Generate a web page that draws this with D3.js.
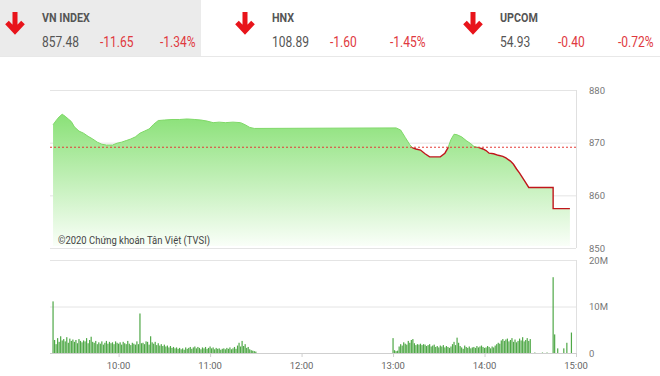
<!DOCTYPE html>
<html>
<head>
<meta charset="utf-8">
<script src="https://cdn.jsdelivr.net/npm/d3@7"></script>
<style>
  body { margin: 0; background: #fff; }
  svg { display: block; font-family: Roboto, "Noto Sans", sans-serif; }
</style>
</head>
<body>
<svg id="chart" width="660" height="376"></svg>
<script>
// header boxes
const indexNames = ["VN INDEX", "HNX", "UPCOM"];
const indexValues = ["857.48", "108.89", "54.93"];
const indexChanges = ["-11.65", "-1.60", "-0.40"];
const indexPercents = ["-1.34%", "-1.45%", "-0.72%"];

// intraday VN-Index
const refPrice = 869.13;
const priceTimes = [
  "09:17", "09:19", "09:21", "09:23", "09:25", "09:27", "09:29", "09:31", "09:34", "09:37",
  "09:40", "09:43", "09:46", "09:49", "09:52", "09:56", "09:59", "10:02", "10:05", "10:08",
  "10:11", "10:14", "10:17", "10:20", "10:23", "10:26", "10:30", "10:35", "10:40", "10:45",
  "10:50", "10:54", "10:58", "11:02", "11:06", "11:10", "11:15", "11:20", "11:23", "11:26",
  "11:29", "13:02", "13:05", "13:08", "13:11", "13:13", "13:15", "13:18", "13:21", "13:24",
  "13:28", "13:31", "13:34", "13:36", "13:38", "13:40", "13:42", "13:45", "13:48", "13:51",
  "13:53", "13:56", "13:59", "14:01", "14:03", "14:06", "14:09", "14:12", "14:14", "14:17",
  "14:19", "14:21", "14:23", "14:25", "14:27", "14:29", "14:45", "14:45", "14:56"
];
const priceValues = [
  873.4, 874.2, 874.9, 875.4, 875.0, 874.5, 874.0, 873.0, 872.2, 871.8,
  871.2, 870.7, 870.1, 869.7, 869.55, 869.55, 869.9, 870.1, 870.4, 870.7,
  871.1, 871.8, 872.2, 872.6, 873.5, 874.2, 874.3, 874.4, 874.4, 874.5,
  874.4, 874.3, 874.1, 873.8, 873.9, 873.8, 873.9, 873.8, 873.4, 872.9,
  872.7, 872.8, 872.4, 871.0, 869.6, 869.0, 868.8, 868.6, 867.9, 867.3,
  867.3, 867.3, 868.0, 869.0, 870.6, 871.6, 871.5, 871.1, 870.4, 869.8,
  869.3, 869.1, 868.8, 868.5, 868.0, 867.9, 867.6, 867.4, 867.1, 866.5,
  865.9, 865.0, 864.2, 863.3, 862.4, 861.5, 861.5, 857.48, 857.48
];

// volume per minute, millions of shares
const volMorningStart = "09:17";
const volMorning = [
  11.1, 2.8, 1.9, 3.2, 2.4, 3.6, 2.7, 3.0, 2.5, 3.4, 2.2, 3.1, 2.6, 2.9,
  2.4, 2.8, 2.1, 3.0, 2.6, 2.3, 2.7, 2.5, 3.2, 2.1, 2.8, 3.5, 2.4, 2.2, 2.6,
  1.9, 2.3, 2.0, 2.5, 1.8, 2.2, 2.6, 2.0, 2.4, 2.1, 2.3, 1.9, 2.5, 2.2, 2.0,
  2.3, 1.8, 2.4, 2.1, 1.9, 2.6, 2.0, 1.7, 2.2, 2.0, 1.8, 2.5, 1.9, 8.5, 2.1,
  2.2, 1.9, 2.5, 2.4, 1.8, 3.6, 2.3, 2.0, 2.4, 1.7, 2.1, 1.6, 1.9, 1.5, 1.8,
  1.4, 1.6, 1.2, 1.5, 1.1, 1.3, 1.0, 1.2, 0.9, 1.1, 0.8, 1.0, 0.7, 1.2, 0.9,
  1.1, 1.3, 0.9, 1.2, 1.4, 1.0, 1.3, 1.1, 0.8, 1.2, 1.0, 1.3, 0.9, 1.1, 1.4,
  1.0, 1.2, 0.8, 1.1, 0.9, 1.0, 0.7, 0.9, 1.0, 0.8, 1.1, 0.9, 1.2, 0.8, 1.0,
  1.3, 0.9, 1.6, 2.2, 1.4, 2.6, 1.5, 1.9, 1.1, 1.3, 0.8, 0.6, 0.5, 0.4, 0.3
];
const volAfternoonStart = "13:00";
const volAfternoon = [
  3.2, 0.6, 0.4, 0.5, 1.4, 1.9, 1.6, 2.3, 2.0, 1.8, 2.6, 2.2, 2.8, 3.0, 2.1, 1.7,
  1.9, 1.8, 2.0, 1.7, 1.9, 1.8, 1.5, 1.7, 1.9, 1.4, 1.6, 1.8, 1.3, 1.5, 1.2,
  1.6, 1.4, 1.7, 1.2, 1.5, 1.3, 1.1, 1.4, 1.9, 2.4, 1.7, 3.3, 2.2, 1.5, 1.2,
  0.9, 1.6, 1.3, 1.1, 1.4, 1.0, 1.2, 1.3, 1.1, 1.5, 1.2, 1.4, 1.6, 1.3, 1.1,
  1.2, 1.5, 1.3, 1.0, 1.4, 1.2, 1.6, 1.9, 2.2, 2.0, 2.7, 3.0, 2.6, 2.9, 3.1,
  2.5, 2.8, 3.2, 2.4, 2.9, 2.3, 2.6, 3.1, 2.7, 3.4, 2.5, 2.8, 3.2, 2.6, 3.0
];
const volAtcTimes = ["14:33", "14:38", "14:41", "14:45", "14:46", "14:48", "14:52", "14:54", "14:57"];
const volAtc = [0.1, 0.1, 0.1, 16.3, 4.0, 1.0, 1.0, 2.2, 4.4];

const priceTicks = [850, 860, 870, 880];
const volTicks = [0, 10, 20];
const volTickLabels = ["0", "10M", "20M"];
const timeTicks = ["10:00", "11:00", "12:00", "13:00", "14:00", "15:00"];

const parse = d3.timeParse("%H:%M");
const svg = d3.select("#chart");

// ---------- header ----------
svg.append("rect").attr("x", 0).attr("y", 0).attr("width", 201).attr("height", 56).attr("fill", "#ebebeb");
svg.append("line").attr("x1", 0).attr("x2", 660).attr("y1", 56.5).attr("y2", 56.5).attr("stroke", "#e8e8e8");

const boxX = [0, 230, 458];
indexNames.forEach((name, i) => {
  const g = svg.append("g").attr("transform", "translate(" + boxX[i] + ",0)");
  g.append("path")
    .attr("d", "M15,12V31M7,22.5L15,31L23,22.5")
    .attr("fill", "none").attr("stroke", "#e8141b").attr("stroke-width", 5);
  const txt = (x, y, s, color, weight, size) =>
    g.append("text").attr("transform", "translate(" + x + "," + y + ") scale(0.86,1)")
      .attr("fill", color).attr("font-weight", weight).attr("font-size", size).text(s);
  txt(42, 22, name, "#555", "bold", 12.5);
  txt(42, 47, indexValues[i], "#555", "normal", 14);
  txt(100, 47, indexChanges[i], "#e0393e", "normal", 14);
  txt(160, 47, indexPercents[i], "#e0393e", "normal", 14);
});

// ---------- scales ----------
const x = d3.scaleTime().domain([parse("09:15"), parse("15:00")]).range([50, 576]);
const yP = d3.scaleLinear().domain([850, 880]).range([248, 90]);
const yV = d3.scaleLinear().domain([0, 20]).range([353, 260]);

const prices = priceTimes.map((t, i) => ({ t: parse(t), v: priceValues[i] }));

// ---------- price panel ----------
svg.append("g").selectAll("line").data(priceTicks).join("line")
  .attr("x1", 50).attr("x2", 576)
  .attr("y1", d => yP(d) + 0.5).attr("y2", d => yP(d) + 0.5)
  .attr("stroke", "#e4e4e4");
svg.append("line").attr("x1", 576.5).attr("x2", 576.5).attr("y1", yP(880)).attr("y2", yP(850))
  .attr("stroke", "#e0e0e0");

const defs = svg.append("defs");
const grad = defs.append("linearGradient").attr("id", "areaGrad")
  .attr("gradientUnits", "userSpaceOnUse")
  .attr("x1", 0).attr("x2", 0).attr("y1", yP(876)).attr("y2", yP(850));
grad.append("stop").attr("offset", 0).attr("stop-color", "#87e074");
grad.append("stop").attr("offset", 1).attr("stop-color", "#fbfffa");

defs.append("clipPath").attr("id", "above").append("rect")
  .attr("x", 0).attr("y", 0).attr("width", 660).attr("height", yP(refPrice));
defs.append("clipPath").attr("id", "below").append("rect")
  .attr("x", 0).attr("y", yP(refPrice)).attr("width", 660).attr("height", 376 - yP(refPrice));

const area = d3.area().x(d => x(d.t)).y0(yP(850) - 2).y1(d => yP(d.v));
const line = d3.line().x(d => x(d.t)).y(d => yP(d.v));

svg.append("path").datum(prices).attr("d", area).attr("fill", "url(#areaGrad)");
svg.append("path").datum(prices).attr("d", line).attr("fill", "none")
  .attr("stroke", "#7fd868").attr("stroke-width", 1).attr("clip-path", "url(#above)");
svg.append("path").datum(prices).attr("d", line).attr("fill", "none")
  .attr("stroke", "#c0161b").attr("stroke-width", 1.4).attr("clip-path", "url(#below)");

svg.append("line").attr("x1", 50).attr("x2", 576)
  .attr("y1", yP(refPrice)).attr("y2", yP(refPrice))
  .attr("stroke", "#e53935").attr("stroke-width", 1).attr("stroke-dasharray", "2,2");

svg.append("g").selectAll("text").data(priceTicks).join("text")
  .attr("x", 589).attr("y", d => yP(d) + 3.5)
  .attr("font-size", 9.5).attr("fill", "#777").text(d => d);

svg.append("text").attr("transform", "translate(58,244) scale(0.86,1)")
  .attr("font-size", 11).attr("fill", "#444").text("©2020 Chứng khoán Tân Việt (TVSI)");

// ---------- volume panel ----------
svg.append("g").selectAll("line").data(volTicks).join("line")
  .attr("x1", 50).attr("x2", 576)
  .attr("y1", d => yV(d) + 0.5).attr("y2", d => yV(d) + 0.5)
  .attr("stroke", d => d === 0 ? "#cfcfcf" : "#e4e4e4");
svg.append("line").attr("x1", 576.5).attr("x2", 576.5).attr("y1", yV(20)).attr("y2", yV(0))
  .attr("stroke", "#e0e0e0");

const minute = 60000;
const vols = [];
volMorning.forEach((v, i) => vols.push({ t: new Date(+parse(volMorningStart) + i * minute), v }));
volAfternoon.forEach((v, i) => vols.push({ t: new Date(+parse(volAfternoonStart) + i * minute), v }));
volAtc.forEach((v, i) => vols.push({ t: parse(volAtcTimes[i]), v }));

svg.append("g").selectAll("rect").data(vols).join("rect")
  .attr("x", d => x(d.t) - 0.6).attr("width", 1.2)
  .attr("y", d => yV(d.v)).attr("height", d => yV(0) - yV(d.v))
  .attr("fill", "#4fa847");

svg.append("g").selectAll("text").data(volTicks).join("text")
  .attr("x", 589).attr("y", d => yV(d) + 3.5)
  .attr("font-size", 9.5).attr("fill", "#777").text((d, i) => volTickLabels[i]);

// time axis
const times = timeTicks.map(parse);
svg.append("g").selectAll("line").data(times).join("line")
  .attr("x1", d => x(d) + 0.5).attr("x2", d => x(d) + 0.5)
  .attr("y1", yV(0)).attr("y2", yV(0) + 4).attr("stroke", "#cfcfcf");
svg.append("g").selectAll("text").data(times).join("text")
  .attr("x", d => x(d)).attr("y", 369).attr("text-anchor", "middle")
  .attr("font-size", 9.5).attr("fill", "#666").text(d => d3.timeFormat("%H:%M")(d));
</script>
</body>
</html>
